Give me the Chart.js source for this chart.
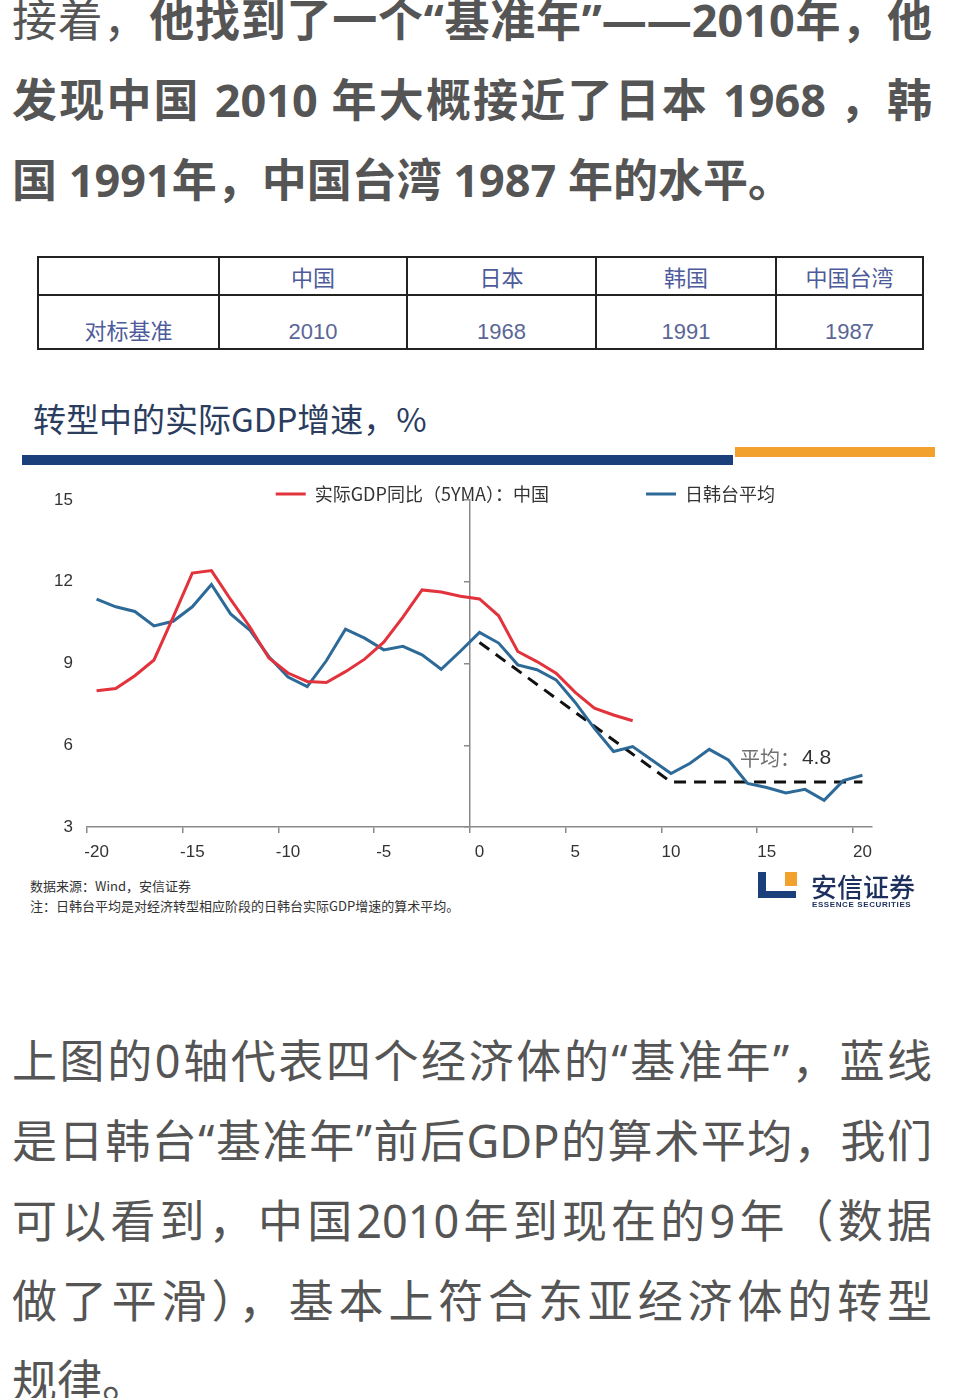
<!DOCTYPE html>
<html lang="zh-CN">
<head>
<meta charset="utf-8">
<script src="https://cdn.jsdelivr.net/npm/chart.js@4.4.1/dist/chart.umd.min.js"></script>
<style>
html,body{margin:0;padding:0;background:#fff;}
body{width:958px;height:1398px;position:relative;overflow:hidden;font-family:"Noto Sans CJK SC","Noto Sans",sans-serif;}
.para{position:absolute;left:12px;width:920px;color:#555;font-size:45px;line-height:80px;font-family:"Noto Sans","Noto Sans CJK SC",sans-serif;}
.para div{white-space:nowrap;}
.j{text-align:justify;text-align-last:justify;}
.b{font-weight:700;}
.n{font-weight:400;}
#tbl{position:absolute;left:37px;top:256px;border-collapse:collapse;}
#tbl td{border:2px solid #222;text-align:center;padding:0;color:#4d5b9b;}
#tbl tr.h td{height:36px;font-size:22px;}
#tbl tr.v td{height:49px;font-size:22px;vertical-align:bottom;padding-bottom:3px;}
#tbl .num{font-family:"Liberation Sans Narrow","Liberation Sans",Arial,sans-serif;font-size:25px;color:#5a6696;padding-bottom:4px;}
#title{position:absolute;left:33px;top:398px;font-size:33px;line-height:40px;color:#2b3d5e;white-space:nowrap;}
#barNavy{position:absolute;left:22px;top:455px;width:711px;height:10px;background:#1b3f7b;}
#barOrange{position:absolute;left:735px;top:447px;width:200px;height:10px;background:#f2a22c;}
#chart{position:absolute;left:0;top:388px;}
#foot{position:absolute;left:30px;top:876px;font-size:13px;line-height:20px;color:#333;white-space:nowrap;}
.logo{position:absolute;}
</style>
</head>
<body>
<div class="para" style="top:-20px;">
  <div class="j"><span class="n">接着，</span><span class="b">他找到了一个“基准年”——2010年，他</span></div>
  <div class="j b">发现中国 2010 年大概接近了日本 1968 ，韩</div>
  <div class="b">国 1991年，中国台湾 1987 年的水平。</div>
</div>

<table id="tbl">
  <tr class="h"><td style="width:179px"></td><td style="width:186px">中国</td><td style="width:187px">日本</td><td style="width:178px">韩国</td><td style="width:145px">中国台湾</td></tr>
  <tr class="v"><td>对标基准</td><td class="num">2010</td><td class="num">1968</td><td class="num">1991</td><td class="num">1987</td></tr>
</table>

<div id="title">转型中的实际GDP增速，%</div>
<div id="barNavy"></div>
<div id="barOrange"></div>

<canvas id="chart" width="958" height="482"></canvas>

<div id="foot">数据来源：Wind，安信证券<br>注：日韩台平均是对经济转型相应阶段的日韩台实际GDP增速的算术平均。</div>

<div class="logo" style="left:758px;top:872px;width:8px;height:26px;background:#1b3f7b;"></div>
<div class="logo" style="left:758px;top:891px;width:38px;height:7px;background:#1b3f7b;"></div>
<div class="logo" style="left:785px;top:872px;width:12px;height:14px;background:#f2a22c;"></div>
<div class="logo" style="left:811px;top:871px;font-size:26px;line-height:30px;font-weight:500;color:#1d2f5c;white-space:nowrap;">安信证券</div>
<div class="logo" style="left:812px;top:900px;font-size:8px;line-height:9px;font-weight:700;color:#1d2f5c;letter-spacing:0.6px;font-family:'Liberation Sans',Arial,sans-serif;white-space:nowrap;">ESSENCE SECURITIES</div>

<div class="para" style="top:1021px;">
  <div class="j">上图的0轴代表四个经济体的“基准年”，蓝线</div>
  <div class="j">是日韩台“基准年”前后GDP的算术平均，我们</div>
  <div class="j">可以看到，中国2010年到现在的9年（数据</div>
  <div class="j">做了平滑），基本上符合东亚经济体的转型</div>
  <div>规律。</div>
</div>

<script>
// Years relative to the benchmark year (0 = 基准年)
const years = [-20,-19,-18,-17,-16,-15,-14,-13,-12,-11,-10,-9,-8,-7,-6,-5,-4,-3,-2,-1,0,1,2,3,4,5,6,7,8,9,10,11,12,13,14,15,16,17,18,19,20];

// 实际GDP同比（5YMA）：中国
const chinaGDP = [8.0,8.08,8.55,9.13,10.7,12.32,12.41,11.35,10.35,9.2,
                  8.65,8.34,8.3,8.7,9.16,9.78,10.7,11.7,11.62,11.47,
                  11.37,10.75,9.44,9.07,8.64,7.94,7.36,7.11,6.9,
                  null,null,null,null,null,null,null,null,null,null,null,null];

// 日韩台平均
const jktAvg = [11.36,11.08,10.91,10.38,10.55,11.08,11.9,10.82,10.23,9.25,
                8.5,8.15,9.1,10.26,9.93,9.5,9.63,9.32,8.79,9.45,
                10.14,9.75,8.95,8.77,8.4,7.57,6.62,5.77,5.95,5.46,
                4.96,5.34,5.85,5.46,4.6,4.45,4.25,4.38,3.98,4.7,4.9];

// Dashed trend guide (diagonal then flat average)
const trendGuide = [null,null,null,null,null,null,null,null,null,null,
                    null,null,null,null,null,null,null,null,null,null,
                    9.77,null,null,null,null,null,null,null,null,null,
                    4.65,null,null,null,null,null,null,null,null,null,4.65];

const yTicks = [3,6,9,12,15];
const seriesNames = ['实际GDP同比（5YMA）：中国', '日韩台平均', '趋势'];
const avgText = ['平均：', '4.8'];

const avgNote = {
  id: 'avgNote',
  afterDatasetsDraw(chart) {
    const {ctx, scales} = chart;
    const px = scales.x.getPixelForValue(33.6);
    const py = scales.y.getPixelForValue(5.53);
    ctx.save();
    ctx.textBaseline = 'middle';
    ctx.textAlign = 'left';
    ctx.font = '20px "Noto Sans CJK SC"';
    ctx.fillStyle = '#707070';
    ctx.fillText(avgText[0], px, py);
    const w = ctx.measureText(avgText[0]).width;
    ctx.font = '21px "Liberation Sans", Arial';
    ctx.fillStyle = '#333';
    ctx.fillText(avgText[1], px + w + 2, py);
    ctx.restore();
  }
};

// legend sits just above the plot; let its clip box reach a little lower so the text is whole
const legendRoom = {
  id: 'legendRoom',
  afterLayout(chart) {
    if (chart.legend) { chart.legend.bottom = chart.legend.top + chart.legend.height + 14; }
  }
};

const axisGray = '#8a8a8a';
const tickFont = {family: '"Liberation Sans", Arial, sans-serif', size: 17};

new Chart(document.getElementById('chart'), {
  type: 'line',
  data: {
    labels: years,
    datasets: [
      {label: seriesNames[0], data: chinaGDP, borderColor: '#e2323c', backgroundColor: '#e2323c', borderWidth: 3, pointRadius: 0, tension: 0, spanGaps: false},
      {label: seriesNames[1], data: jktAvg, borderColor: '#2d6a98', backgroundColor: '#2d6a98', borderWidth: 3, pointRadius: 0, tension: 0},
      {label: seriesNames[2], data: trendGuide, borderColor: '#111', backgroundColor: '#111', borderWidth: 3, borderDash: [12, 8], pointRadius: 0, tension: 0, spanGaps: true}
    ]
  },
  options: {
    responsive: false,
    animation: false,
    events: [],
    layout: {padding: {left: 0, right: 86, top: 0, bottom: 0}},
    plugins: {
      tooltip: {enabled: false},
      legend: {
        display: true,
        position: 'top',
        align: 'end',
        fullSize: false,
        maxHeight: 112,
        labels: {
          usePointStyle: true,
          pointStyle: 'line',
          pointStyleWidth: 30,
          padding: 97,
          color: '#333',
          font: {family: '"Noto Sans CJK SC", sans-serif', size: 18},
          filter: (item) => item.datasetIndex < 2
        }
      }
    },
    scales: {
      x: {
        type: 'category',
        offset: true,
        grid: {
          offset: true,
          drawOnChartArea: false,
          drawTicks: true,
          tickLength: 6,
          lineWidth: 1.5,
          tickColor: (c) => (c.tick !== undefined && years[c.index] % 5 === 0) ? axisGray : 'rgba(0,0,0,0)',
          color: 'rgba(0,0,0,0)'
        },
        border: {display: true, color: axisGray, width: 1.5},
        ticks: {
          autoSkip: false,
          maxRotation: 0,
          padding: 9,
          color: '#333',
          font: tickFont,
          callback: (v, i) => (years[i] % 5 === 0 ? String(years[i]) : '')
        },
        afterFit: (s) => { s.height = 43; }
      },
      y: {
        position: 'left',
        min: 3,
        max: 15,
        afterBuildTicks: (s) => { s.ticks = yTicks.map(v => ({value: v})); },
        ticks: {padding: 14, color: '#333', font: tickFont},
        grid: {display: false, drawTicks: false},
        border: {display: false},
        afterFit: (s) => { s.width = 87; }
      },
      y2: {
        type: 'linear',
        axis: 'y',
        position: {x: 19.5},
        min: 3,
        max: 15,
        afterBuildTicks: (s) => { s.ticks = yTicks.map(v => ({value: v})); },
        ticks: {display: false},
        grid: {drawOnChartArea: false, drawTicks: true, tickLength: 5, color: axisGray, lineWidth: 1.5},
        border: {display: true, color: axisGray, width: 1.5}
      }
    }
  },
  plugins: [avgNote, legendRoom]
});
</script>
</body>
</html>
